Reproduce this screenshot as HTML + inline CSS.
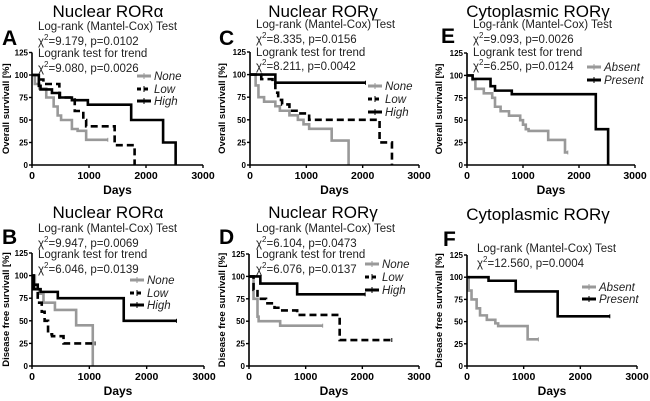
<!DOCTYPE html>
<html><head><meta charset="utf-8"><style>
body{margin:0;background:#fff}
svg{display:block;font-family:"Liberation Sans",Arial,sans-serif}
</style></head><body>
<svg id="fig" width="650" height="401" viewBox="0 0 650 401"></svg>
<script>
// ---- data (times in days, survival in %) ----
const xTicks=[0,1000,2000,3000];
const yTicks=[0,25,50,75,100,125];
const A_none_t=[0,50,130,250,380,450,510,700,800,950,1330];
const A_none_s=[100,90,85,75,65,55,50,40,38,28,28];
const A_low_t=[0,100,200,480,750,900,950,1450,1800];
const A_low_s=[100,95,90,75,60,50,43,22,0];
const A_high_t=[0,120,150,350,490,700,980,1740,2300,2520];
const A_high_s=[100,88,84,80,75,72,67,50,25,0];
const B_none_t=[0,50,130,200,400,770,1060];
const B_none_s=[100,85,80,70,62,45,0];
const B_low_t=[0,30,100,170,220,280,350,550,1100];
const B_low_s=[100,85,70,60,50,35,33,25,25];
const B_high_t=[0,30,100,150,450,1600,2520];
const B_high_s=[100,90,85,82,75,50,50];
const C_none_t=[0,100,150,250,450,530,700,850,950,1050,1450,1750];
const C_none_s=[100,88,75,70,65,60,55,50,45,40,27,0];
const C_low_t=[0,200,400,450,500,570,700,850,1050,2300,2520];
const C_low_s=[100,95,90,80,72,67,60,57,50,25,0];
const C_high_t=[0,450,2050];
const C_high_s=[100,91,91];
const D_none_t=[0,80,150,170,550,1300];
const D_none_s=[100,75,55,50,45,45];
const D_low_t=[0,80,150,300,450,550,850,1600,2520];
const D_low_s=[100,85,75,70,65,62,57,29,29];
const D_high_t=[0,200,850,2050];
const D_high_s=[100,92,80,80];
const E_abs_t=[0,100,150,300,450,500,600,750,950,1000,1050,1100,1450,1750,1800];
const E_abs_s=[100,95,85,80,75,65,60,55,50,45,40,38,28,14,14];
const E_pre_t=[0,100,420,500,800,2300,2520];
const E_pre_s=[100,96,88,83,79,40,0];
const F_abs_t=[0,30,80,170,230,350,500,550,1070,1260];
const F_abs_s=[100,85,75,65,57,52,48,45,30,30];
const F_pre_t=[0,380,860,1600,2520];
const F_pre_s=[100,96,84,56,56];

const NS="http://www.w3.org/2000/svg";
const svg=document.getElementById('fig');
function el(tag,attrs,parent,text){const e=document.createElementNS(NS,tag);for(const k in attrs)e.setAttribute(k,attrs[k]);if(text!==undefined)e.textContent=text;(parent||svg).appendChild(e);return e;}

const styles={gray:{stroke:'#999',dash:''},dash:{stroke:'#000',dash:'7,4'},solid:{stroke:'#000',dash:''}};

function panel(p){
  const g=el('g',{});
  
  
  const X=t=>p.x0+(p.x3-p.x0)*t/3000;
  const Y=v=>p.y0+(p.y125-p.y0)*v/125;
  const ti=el('text',{x:p.tx,y:p.ty,'font-size':17,'text-anchor':'middle'},g);
  ti.textContent=p.title;
  
  
  const lt=el('text',{x:p.lx,y:p.ly,'font-size':21,'font-weight':'bold'},g,p.id);
  
  
  p.stats.forEach((s,i)=>{
    const t=el('text',{x:p.sx,y:p.sy[i],'font-size':11.5,fill:'#222'},g);
    
    
    if(s.startsWith('χ2')){
      el('tspan',{},t,'χ');el('tspan',{dy:-5,'font-size':8},t,'2');el('tspan',{dy:5},t,s.slice(2));
    } else t.textContent=s;
  });
  p.series.forEach(s=>{
    const st=styles[s.style];let d='M'+X(s.t[0])+','+Y(s.s[0]);
    for(let i=1;i<s.t.length;i++){d+=' H'+X(s.t[i])+' V'+Y(s.s[i]);}
    const pa=el('path',{d:d,fill:'none',stroke:st.stroke,'stroke-width':2.6,'stroke-dasharray':st.dash},g);
    
    
    const ex=X(s.t[s.t.length-1]),ey=Y(s.s[s.s.length-1]);
    if(s.s[s.s.length-1]>0) el('line',{x1:ex,x2:ex,y1:ey-2,y2:ey+2,stroke:st.stroke,'stroke-width':1},g);
  });
  const ax=el('path',{d:`M${p.x0},${p.y125} V${p.y0} H${p.x3}`,fill:'none',stroke:'#000','stroke-width':1.6},g);
  
  
  xTicks.forEach(v=>{
    el('line',{x1:X(v),x2:X(v),y1:p.y0,y2:p.y0+3,stroke:'#000','stroke-width':1.4},g);
    const t=el('text',{x:X(v),y:p.y0+14,'font-size':10.5,'font-weight':'bold','text-anchor':'middle'},g,v);
    
    
  });
  yTicks.forEach(v=>{
    el('line',{x1:p.x0-3,x2:p.x0,y1:Y(v),y2:Y(v),stroke:'#000','stroke-width':1.4},g);
    const t=el('text',{x:p.x0-4,y:Y(v)+3,'font-size':8,'font-weight':'bold','text-anchor':'end'},g,v);
    
    
  });
  const xl=el('text',{x:(p.x0+p.x3)/2,y:p.y0+29,'font-size':12,'font-weight':'bold','text-anchor':'middle'},g,'Days');
  
  
  const yc=(p.y0+p.y125)/2;
  const yl=el('text',{x:p.yx,y:yc,'font-size':9.5,'font-weight':'bold','text-anchor':'middle',transform:`rotate(-90 ${p.yx} ${yc})`},g,p.ylab);
  
  
  p.series.forEach((s,i)=>{
    const st=styles[s.style];const y=p.legY[i];
    const lg=el('g',{},g);
    
    
    el('line',{x1:p.legX,x2:p.legX+14,y1:y-4,y2:y-4,stroke:st.stroke,'stroke-width':3,'stroke-dasharray':s.style==='dash'?'4,3':''},lg);
    el('line',{x1:p.legX+7,x2:p.legX+7,y1:y-7,y2:y-1,stroke:st.stroke,'stroke-width':1},lg);
    el('text',{x:p.legX+17,y:y,'font-size':11.5,'font-style':'italic',fill:'#222'},lg,s.name);
  });
}
const stat4=(a,b)=>['Log-rank (Mantel-Cox) Test','χ2'+a,'Logrank test for trend','χ2'+b];
const OS='Overall survivall [%]',DFS='Disease free survivall [%]';
panel({id:'A',title:'Nuclear RORα',tx:108,ty:17,lx:2,ly:45,x0:32,x3:203,y0:165,y125:52.5,yx:9,ylab:OS,
 sx:38,sy:[30,45,57,72],stats:stat4('=9.179, p=0.0102','=9.080, p=0.0026'),legX:137,
 series:[{name:'None',style:'gray',t:A_none_t,s:A_none_s},{name:'Low',style:'dash',t:A_low_t,s:A_low_s},{name:'High',style:'solid',t:A_high_t,s:A_high_s}],legY:[80,93,105]});
panel({id:'B',title:'Nuclear RORα',tx:108,ty:218,lx:2,ly:244,x0:32,x3:204,y0:366,y125:253,yx:9,ylab:DFS,
 sx:38,sy:[232,247,258,273],stats:stat4('=9.947, p=0.0069','=6.046, p=0.0139'),legX:130,
 series:[{name:'None',style:'gray',t:B_none_t,s:B_none_s},{name:'Low',style:'dash',t:B_low_t,s:B_low_s},{name:'High',style:'solid',t:B_high_t,s:B_high_s}],legY:[284,297,309]});
panel({id:'C',title:'Nuclear RORγ',tx:323,ty:17,lx:219,ly:45,x0:250,x3:419,y0:165,y125:52,yx:225,ylab:OS,
 sx:256,sy:[28,43,56,70],stats:stat4('=8.335, p=0.0156','=8.211, p=0.0042'),legX:368,
 series:[{name:'None',style:'gray',t:C_none_t,s:C_none_s},{name:'Low',style:'dash',t:C_low_t,s:C_low_s},{name:'High',style:'solid',t:C_high_t,s:C_high_s}],legY:[90,103,116]});
panel({id:'D',title:'Nuclear RORγ',tx:323,ty:218,lx:219,ly:244,x0:249,x3:419,y0:366,y125:254,yx:225,ylab:DFS,
 sx:256,sy:[232,247,258,273],stats:stat4('=6.104, p=0.0473','=6.076, p=0.0137'),legX:365,
 series:[{name:'None',style:'gray',t:D_none_t,s:D_none_s},{name:'Low',style:'dash',t:D_low_t,s:D_low_s},{name:'High',style:'solid',t:D_high_t,s:D_high_s}],legY:[268,281,294]});
panel({id:'E',title:'Cytoplasmic RORγ',tx:538,ty:17,lx:441,ly:43,x0:467,x3:635,y0:165,y125:53,yx:442,ylab:OS,
 sx:473,sy:[28,43,56,70],stats:stat4('=9.093, p=0.0026','=6.250, p=0.0124'),legX:587,
 series:[{name:'Absent',style:'gray',t:E_abs_t,s:E_abs_s},{name:'Present',style:'solid',t:E_pre_t,s:E_pre_s}],legY:[71,84]});
panel({id:'F',title:'Cytoplasmic RORγ',tx:538,ty:220,lx:443,ly:246,x0:467,x3:637,y0:366,y125:255,yx:442,ylab:DFS,
 sx:477,sy:[252,267],stats:['Log-rank (Mantel-Cox) Test','χ2=12.560, p=0.0004'],legX:582,
 series:[{name:'Absent',style:'gray',t:F_abs_t,s:F_abs_s},{name:'Present',style:'solid',t:F_pre_t,s:F_pre_s}],legY:[291,303]});
</script>
</body></html>
